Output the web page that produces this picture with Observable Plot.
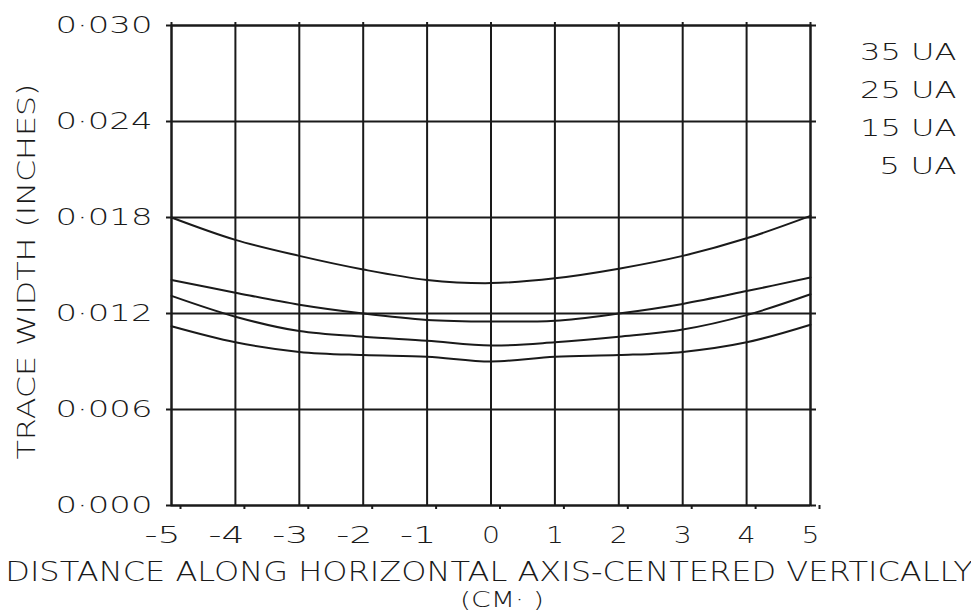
<!DOCTYPE html>
<html>
<head>
<meta charset="utf-8">
<script src="https://cdn.jsdelivr.net/npm/d3@7"></script>
<script src="https://cdn.jsdelivr.net/npm/@observablehq/plot@0.6"></script>
<style>
  html, body { margin: 0; padding: 0; background: #fff; }
</style>
</head>
<body>
<div id="chart"></div>
<script>
// ---- data ----
const xs = [-5, -4, -3, -2, -1, 0, 1, 2, 3, 4, 5];
const ua35 = [0.0180, 0.0166, 0.0156, 0.01475, 0.0141, 0.0139, 0.0142, 0.0148, 0.0156, 0.0167, 0.0181];
const ua25 = [0.0141, 0.0133, 0.01255, 0.0120, 0.0116, 0.0115, 0.01155, 0.0120, 0.0126, 0.0134, 0.01425];
const ua15 = [0.0131, 0.0118, 0.0109, 0.01055, 0.0103, 0.0100, 0.0102, 0.01055, 0.0110, 0.0119, 0.0132];
const ua5  = [0.0112, 0.0102, 0.0096, 0.0094, 0.0093, 0.0090, 0.0093, 0.0094, 0.0096, 0.0102, 0.0113];
const seriesNames = ["35 UA", "25 UA", "15 UA", "5 UA"];
const xTicks = [-5, -4, -3, -2, -1, 0, 1, 2, 3, 4, 5];
const xTickLabels = ["-5", "-4", "-3", "-2", "-1", "0", "1", "2", "3", "4", "5"];
const yTicks = [0, 0.006, 0.012, 0.018, 0.024, 0.030];
const yTickLabels = ["0·000", "0·006", "0·012", "0·018", "0·024", "0·030"];
const xTitle = "DISTANCE ALONG HORIZONTAL AXIS-CENTERED VERTICALLY";
const xUnit = "(CM· )";
const yTitle = "TRACE WIDTH (INCHES)";

const allSeries = [ua35, ua25, ua15, ua5];
const rows = [];
allSeries.forEach((vals, s) => vals.forEach((v, i) => rows.push({series: seriesNames[s], x: xs[i], y: v})));

const FONT = "DejaVu Sans";
const ink = "#1a1a1a";

const svg = Plot.plot({
  width: 971,
  height: 612,
  marginLeft: 171,
  marginRight: 161,
  marginTop: 25,
  marginBottom: 107,
  style: {fontFamily: FONT, fontWeight: 200, color: ink, background: "#fff"},
  x: {domain: [-5, 5]},
  y: {domain: [0, 0.030]},
  marks: [
    Plot.gridX(xTicks, {stroke: ink, strokeOpacity: 1, strokeWidth: 2}),
    Plot.gridY(yTicks, {stroke: ink, strokeOpacity: 1, strokeWidth: 2}),
    Plot.frame({stroke: ink, strokeWidth: 2}),
    Plot.axisY(yTicks, {anchor: "left", tickSize: 5, tickPadding: 14, strokeWidth: 2,
      tickFormat: (d, i) => yTickLabels[i], fontSize: 23, fontWeight: 200, label: null}),
    Plot.axisY(yTicks, {anchor: "right", tickSize: 5, strokeWidth: 2, tickFormat: () => "", label: null}),
    Plot.axisX(xTicks, {anchor: "bottom", tickSize: 4, tickPadding: 18, strokeWidth: 2,
      tickFormat: (d, i) => xTickLabels[i], textAnchor: "end", dx: 9, fontSize: 22.5, fontWeight: 200, label: null}),
    Plot.axisX(xTicks, {anchor: "top", tickSize: 4, strokeWidth: 2, tickFormat: () => "", label: null}),
    Plot.line(rows, {x: "x", y: "y", z: "series", stroke: ink, strokeWidth: 2, curve: "catmull-rom"}),
    Plot.text([seriesNames.join("\n")], {frameAnchor: "top-right", textAnchor: "end", lineAnchor: "top",
      dx: 146, dy: 8, fontSize: 23.5, fontWeight: 200, lineHeight: 1.617, fill: ink}),
    Plot.text([yTitle], {frameAnchor: "left", textAnchor: "middle", rotate: -90, dx: -145, dy: 6,
      fontSize: 25, fontWeight: 200, fill: ink}),
    Plot.text([xTitle], {frameAnchor: "bottom", textAnchor: "middle", dy: 75.5, dx: -2,
      fontSize: 27, fontWeight: 200, fill: ink}),
    Plot.text([xUnit], {frameAnchor: "bottom", textAnchor: "middle", dy: 101.6, dx: 11,
      fontSize: 22, fontWeight: 200, fill: ink})
  ]
});

// widen glyphs like the plotter lettering: fixed pitch per character
const pitch = {"23": 19.4, "22.5": 18, "23.5": 19.3, "25": 18.8, "27": 19.35, "22": 14};
svg.querySelectorAll("g[font-size]").forEach(g => {
  const p = pitch[g.getAttribute("font-size")];
  if (!p) return;
  g.querySelectorAll("text").forEach(t => {
    const tspans = t.querySelectorAll("tspan");
    const targets = tspans.length ? Array.from(tspans) : [t];
    targets.forEach(el => {
      const s = el.textContent;
      if (!s) return;
      el.setAttribute("textLength", (s.length * p).toFixed(1));
      el.setAttribute("lengthAdjust", "spacingAndGlyphs");
    });
  });
});

document.getElementById("chart").appendChild(svg);
</script>
</body>
</html>
